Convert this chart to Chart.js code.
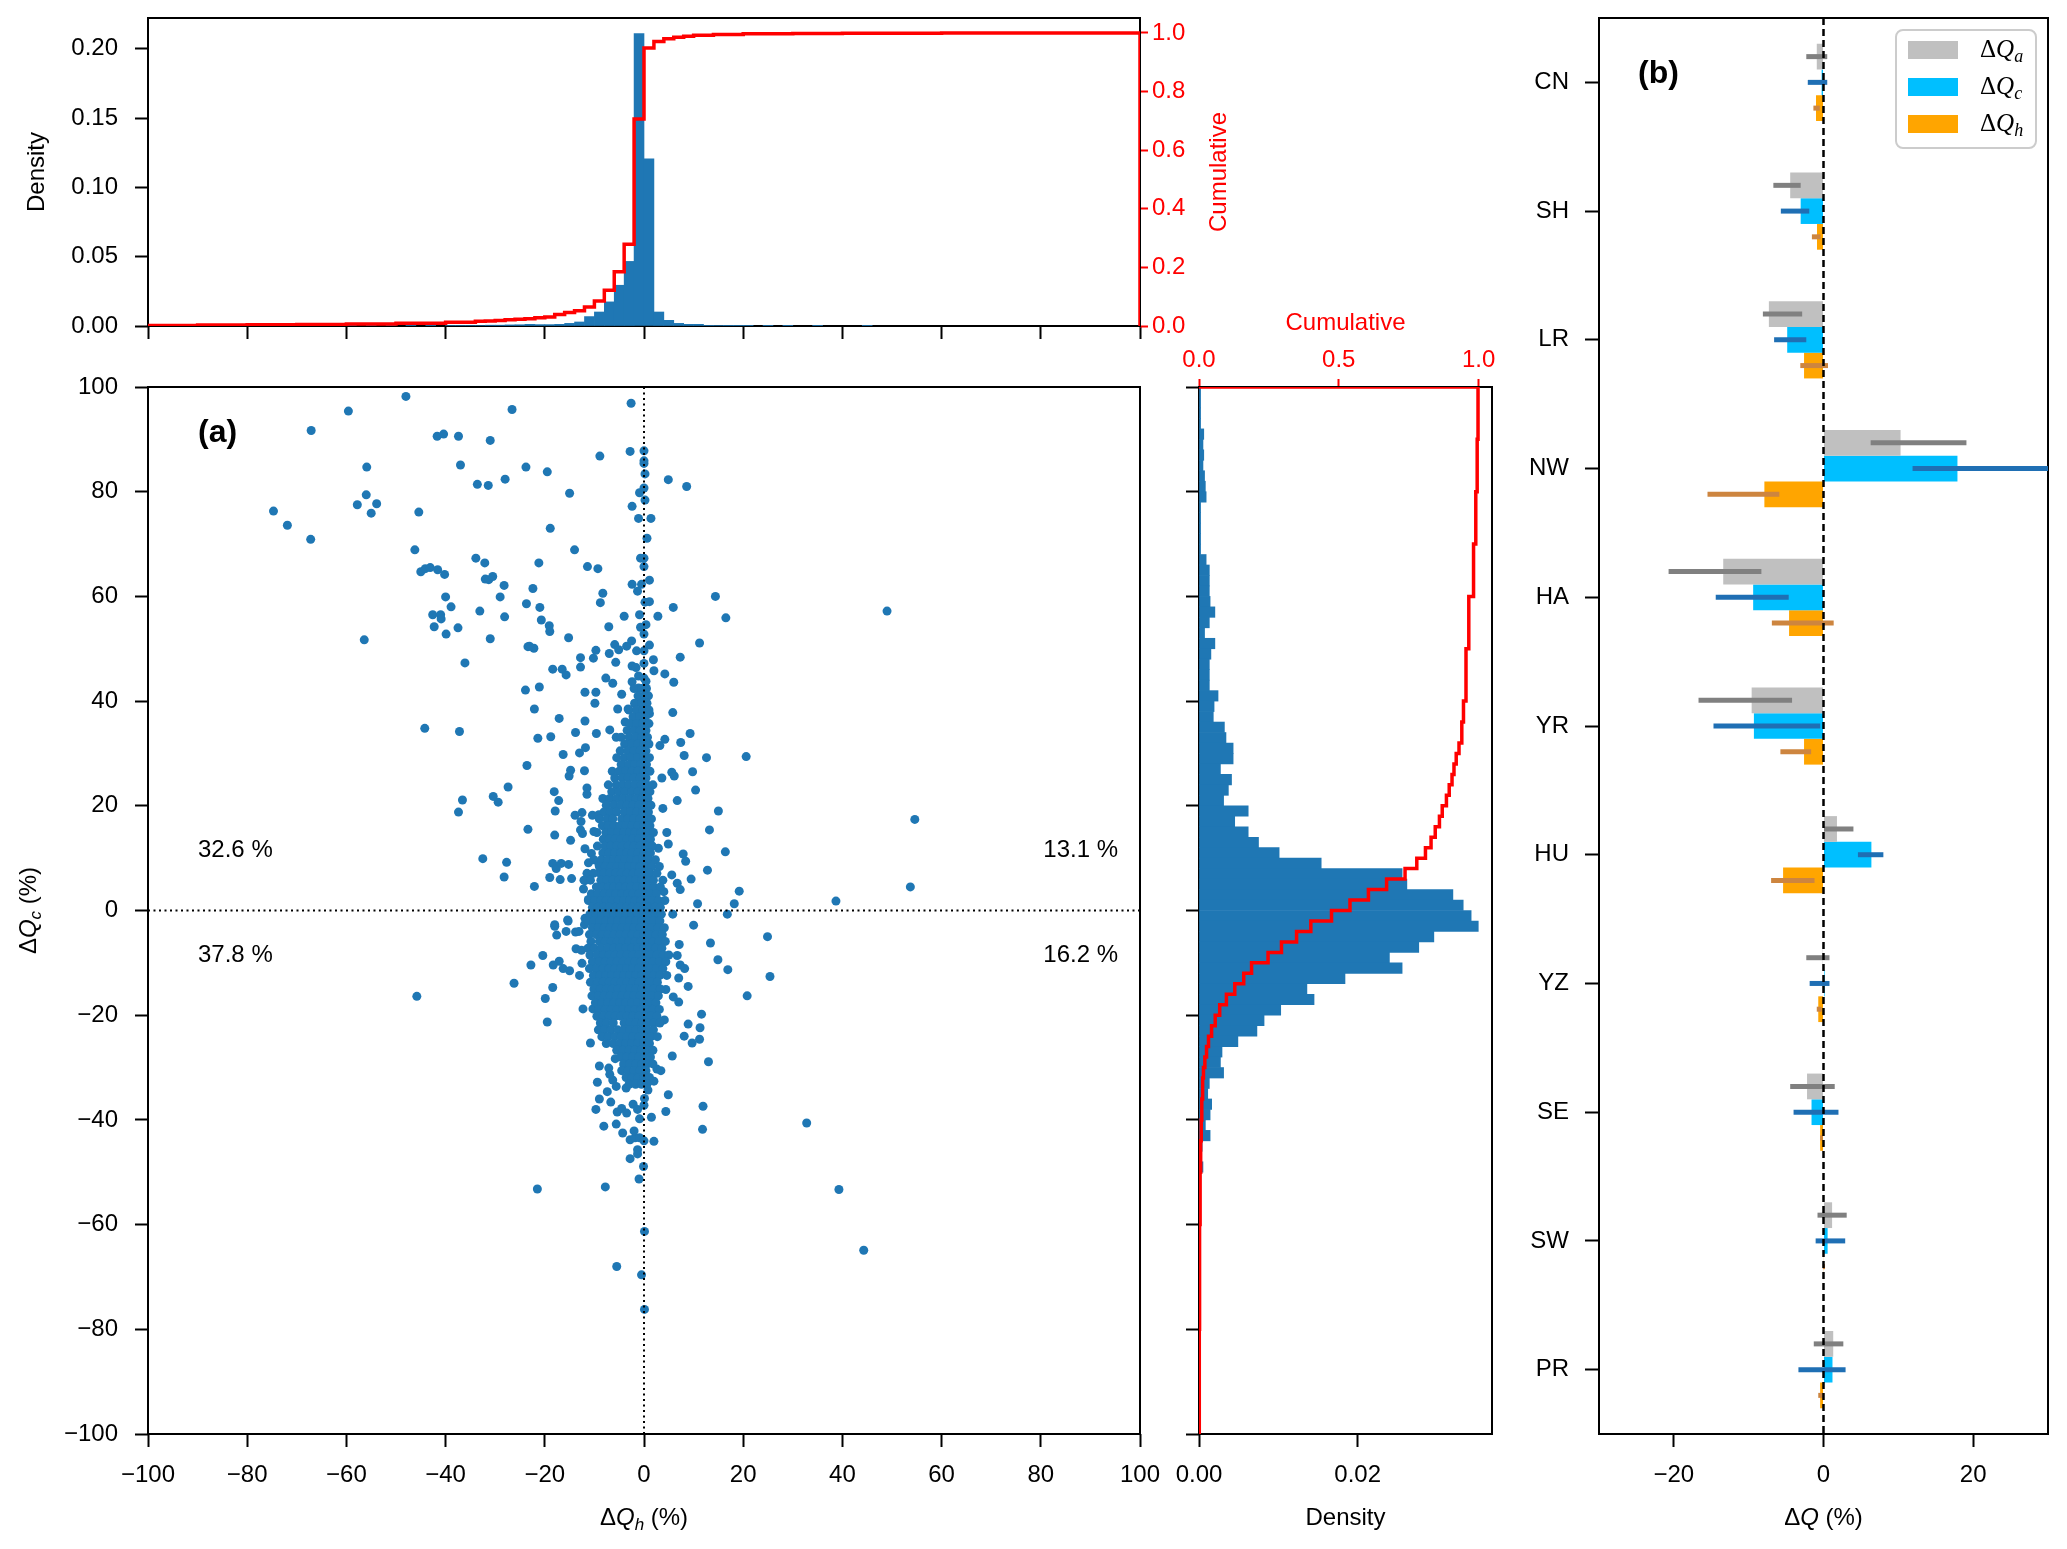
<!DOCTYPE html>
<html>
<head>
<meta charset="utf-8">
<script src="https://cdn.jsdelivr.net/npm/chart.js@4.4.1/dist/chart.umd.min.js"></script>
<style>
  html, body { margin: 0; padding: 0; background: #fff; }
  #wrap { position: relative; width: 2067px; height: 1549px; }
  #wrap canvas { position: absolute; left: 0; top: 0; }
</style>
</head>
<body>
<div id="wrap">
  <canvas id="histTop" width="2067" height="1549"></canvas>
  <canvas id="scatter" width="2067" height="1549"></canvas>
  <canvas id="histRight" width="2067" height="1549"></canvas>
  <canvas id="panelB" width="2067" height="1549"></canvas>
</div>
<script>
// ---------- data ----------

// top histogram of dQh (bin width 2 %)
const topBinCenter = [-99,-95,-91,-87,-83,-79,-75,-71,-67,-63,-59,-55,-51,-47,-43,-39,-37,-35,-33,-31,
  -29,-27,-25,-23,-21,-19,-17,-15,-13,-11,-9,-7,-5,-3,-1,1,3,5,7,9,11,13,15,17,19,21,25,29,35,45];
const topDensity = [0.0001,0.0001,0.0001,0.0001,0.0001,0.0001,0.0001,0.0001,0.0001,0.0001,
  0.0002,0.0002,0.0002,0.0002,0.0002,0.0003,0.0003,0.0003,0.0004,0.0006,
  0.0006,0.0008,0.0009,0.0012,0.001,0.001,0.0012,0.0019,0.0029,0.0068,
  0.0101,0.0174,0.0294,0.0466,0.211,0.1206,0.0101,0.0041,0.0019,0.0012,
  0.0012,0.0005,0.0003,0.0002,0.0002,0.0001,0.0001,0.0001,0.0001,0.0001];
// cumulative step line (left bin edge -> level)
const topCumEdge = [-100,-90,-80,-70,-60,-50,-40,-34,-32,-30,-28,-26,-24,-22,-20,-18,-16,-14,-12,-10,
  -8,-6,-4,-2,0,2,4,6,8,10,14,20,30,40,60,100,100];
const topCumLevel = [0.002,0.003,0.004,0.005,0.007,0.009,0.013,0.016,0.017,0.019,
  0.021,0.023,0.025,0.028,0.031,0.039,0.046,0.052,0.065,0.085,
  0.122,0.185,0.279,0.706,0.949,0.971,0.98,0.985,0.989,0.992,
  0.995,0.997,0.998,0.999,1.0,1.0,0];

// right histogram of dQc (bin width 2 %)
const rightBinCenter = [99,97,95,93,91,89,87,85,83,81,79,77,75,73,71,69,67,65,63,61,59,57,55,53,51,49,47,45,43,41,
  39,37,35,33,31,29,27,25,23,21,19,17,15,13,11,9,7,5,3,1,
  -1,-3,-5,-7,-9,-11,-13,-15,-17,-19,-21,-23,-25,-27,-29,-31,-33,-35,-37,-39,-41,-43,-45,-47,-49,-51,-53,-55,
  -59,-63,-67,-71,-75];
const rightDensity = [0.0002,0.0002,0.0002,0.0002,0.0006,0.0005,0.0006,0.0005,0.0007,0.0008,
  0.0009,0.0002,0.0002,0.0002,0.0002,0.0002,0.0009,0.0013,0.0013,0.0013,
  0.0014,0.002,0.0013,0.0007,0.002,0.0015,0.0013,0.0013,0.0013,0.0024,
  0.0019,0.0018,0.0032,0.0034,0.0043,0.0043,0.0027,0.0041,0.0037,0.0031,
  0.0062,0.0045,0.0062,0.0075,0.0101,0.0154,0.0256,0.0262,0.032,0.0333,
  0.0343,0.0352,0.0296,0.0277,0.024,0.0256,0.0184,0.0136,0.0145,0.0103,
  0.0082,0.0073,0.0049,0.0029,0.0027,0.0031,0.0013,0.0011,0.0016,0.0014,
  0.0008,0.0014,0.0004,0.0003,0.0005,0.0002,0.0002,0.0002,
  0.0001,0.0001,0.0001,0.0001,0.0001];
// cumulative step line (lower bin edge -> level)
const rightCumEdge = [-100,-80,-60,-50,-44,-40,-36,-32,-30,-28,-26,-24,-22,-20,-18,-16,-14,-12,-10,-8,
  -6,-4,-2,0,2,4,6,8,10,12,14,16,18,20,22,24,26,28,30,32,36,40,50,60,70,80,90,100];
const rightCumLevel = [0.001,0.002,0.004,0.006,0.008,0.010,0.013,0.016,0.021,0.027,
  0.034,0.045,0.058,0.074,0.098,0.128,0.16,0.188,0.247,0.295,
  0.349,0.40,0.474,0.54,0.606,0.671,0.737,0.779,0.81,0.83,
  0.845,0.86,0.87,0.885,0.895,0.905,0.912,0.92,0.93,0.94,
  0.946,0.955,0.965,0.982,0.99,0.995,0.998,0];

// scatter: individual points [dQh, dQc]
const scatterPts = [
  [-48.0,98.2],[-59.6,95.4],[-67.1,91.7],[-26.6,95.7],[-41.7,90.6],[-40.4,91.0],[-37.4,90.6],[-31.0,89.8],
  [-55.9,84.7],[-37.0,85.1],[-33.6,81.4],[-31.4,81.2],[-28.0,82.4],[-56.0,79.4],[-57.8,77.5],[-53.9,77.7],
  [-55.0,75.9],[-74.7,76.3],[-71.9,73.6],[-67.2,70.9],[-45.4,76.1],[-46.2,68.9],[-33.9,67.3],[-32.1,66.4],
  [-45.0,64.7],[-44.1,65.3],[-43.1,65.5],[-41.6,65.1],[-40.2,64.2],[-32.0,63.3],[-31.3,63.2],[-30.5,63.8],
  [-28.2,62.1],[-29.0,59.9],[-40.0,59.9],[-38.9,58.0],[-42.6,56.5],[-41.0,56.5],[-40.9,55.7],[-33.1,57.2],
  [-28.1,56.1],[-42.3,54.2],[-37.5,54.0],[-39.9,52.8],[-56.4,51.7],[-31.0,51.9],[-36.1,47.3],[-44.2,34.8],
  [-37.2,34.2],[-27.4,23.6],[-36.6,21.1],[-30.4,21.8],[-29.4,20.7],[-37.4,18.8],[-32.5,9.9],[-27.7,9.2],
  [-28.2,6.4],[-23.4,50.4],[-22.2,50.1],
  [-2.6,96.9],[-2.8,87.7],[0,87.8],[0,85.9],[0,85.4],[0.2,83.4],[-8.9,86.8],[-23.8,84.7],[-19.5,83.8],
  [4.9,82.3],[8.6,81.0],[-15.0,79.7],[0,80.7],[-0.9,79.8],[0.2,78.4],[-2.4,77.2],[-1.1,74.9],[1.4,74.9],
  [-18.9,73.0],[0.6,71.1],[-14.0,68.9],[-0.7,67.3],[0,67.3],[0,65.7],[-21.2,66.4],[-11.4,65.7],[-9.3,65.3],
  [1.1,63.1],[-2.4,62.3],[-0.5,62.3],[-1.3,61.0],[-22.4,61.5],[-8.3,60.6],[-8.8,58.8],[14.4,60.0],
  [-23.7,58.6],[-21.0,57.9],[1.1,59.0],[0.2,58.9],[5.9,57.9],[16.5,55.9],[-4.0,56.2],[-0.9,56.5],
  [0.4,54.6],[2.8,56.2],[-20.7,55.5],[-19.1,54.4],[-19.0,53.3],[-7.1,54.2],[-0.7,54.1],[0,52.8],
  [-23.1,50.5],[-15.2,52.1],[-2.5,51.5],[-5.9,50.8],[-5.1,49.8],[-3.5,50.5],[-9.7,49.7],[-7.0,49.1],
  [-1.5,49.6],[0,49.6],[1.1,50.7],[11.2,51.1],[-12.8,48.3],[-10.2,48.2],[-5.7,47.4],[0,47.2],[1.9,47.9],
  [7.3,48.4],[-18.4,46.1],[-16.5,46.1],[-15.7,45.0],[-12.8,46.5],[-2.4,46.7],[-1.6,46.4],[2.0,45.8],
  [4.2,45.2],[-7.7,44.4],[-1.1,44.8],[0,44.4],[-6.3,43.4],[-2.4,43.7],[0.4,43.8],[6.0,43.6],[-23.9,42.1],
  [-21.1,42.7],[-11.9,41.7],[-9.7,41.7],[-4.5,41.3],[-1.1,42.5],[0.9,41.0],[-9.9,39.6],[-5.3,38.5],
  [-3.2,38.5],[-0.8,40.3],[-22.1,38.5],[1.1,37.6],[5.8,37.8],[-17.1,36.7],[-11.9,36.2],[-3.8,36.0],
  [-21.4,32.9],[-18.8,33.2],[-13.8,34.0],[-9.6,33.8],[-6.9,34.5],[-5.6,33.1],[9.3,33.8],[7.4,32.1],
  [4.2,32.7],[3.2,31.5],[-16.3,29.8],[-13.0,30.1],[-11.8,31.1],[8.1,29.6],[12.6,29.2],[20.6,29.4],
  [-23.6,27.7],[-14.8,26.8],[-15.1,25.7],[-12.0,26.7],[3.6,25.3],[5.6,26.4],[6.1,25.7],[9.8,26.5],
  [10.4,23.0],[-18.1,22.7],[-17.2,21.0],[-11.5,23.4],[-11.5,22.2],[6.7,21.0],[3.8,19.5],[15.0,19.0],
  [-17.9,19.0],[-23.4,15.5],[-18.0,14.4],[-14.8,13.4],[13.2,15.4],[16.4,11.2],[12.8,7.7],[9.5,6.0],
  [4.6,14.9],[4.9,12.7],[2.9,11.9],[7.9,10.8],[8.4,9.4],[5.6,6.8],[6.7,5.2],[7.3,4.0],[4.0,3.6],
  [19.2,3.7],[18.2,1.3],[16.8,-0.7],[10.8,1.3],[5.8,-0.7],[-22.1,4.6],[-19.0,6.3],[-18.4,9.0],[-17.7,8.0],
  [-16.7,9.0],[-15.2,8.8],[-16.9,5.9],[-14.6,6.1],[-15.4,-1.8],[-18.0,-2.7],
  [-13.9,18.2],[-12.5,18.7],[-10.4,18.2],[-9.1,18.3],[-12.7,17.0],[-12.8,15.4],[-12.4,14.7],[-10.1,15.1],
  [-9.5,14.9],[-11.9,11.8],[-10.6,10.9],[-11.2,9.1],[-9.1,8.9],[-9.0,7.2],[-11.9,5.7],[-12.2,4.1],[-11.2,2.1],
  [-22.8,-10.4],[-20.4,-8.6],[-18.4,-14.7],[-19.9,-16.8],[-19.5,-21.3],[-21.5,-53.2],[-7.8,-52.8],
  [-5.5,-68.0],[-0.5,-69.6],[0.1,-76.2],[0.1,-61.3],[-1.0,-51.3],[-0.1,-48.9],[-2.8,-47.4],[-1.3,-46.5],
  [-1.3,-45.7],[-2.8,-43.8],[-1.8,-43.4],[-0.9,-43.4],[0,-44.0],[2.0,-44.1],[-2.0,-42.1],[-4.3,-42.5],
  [-8.1,-41.2],[-5.6,-40.8],[-0.9,-39.8],[1.5,-39.5],[4.4,-38.4],[-9.7,-38.0],[-5.4,-38.5],[-4.5,-37.8],
  [-3.5,-38.7],[-2.2,-37.0],[-1.3,-38.0],[0,-37.2],[11.9,-37.4],[11.8,-41.8],[-9.0,-36.0],[-6.7,-36.6],
  [0.1,-35.9],[0.8,-34.3],[4.9,-35.2],[-7.4,-34.6],[-5.6,-33.6],[-3.6,-33.9],[-9.4,-32.8],[-6.3,-32.4],
  [2.0,-32.6],[-9.0,-29.7],[-7.1,-30.1],[-6.9,-31.3],[-4.0,-29.6],[-5.8,-28.3],[-4.4,-27.5],[2.6,-30.3],
  [3.4,-30.6],[5.7,-27.8],[13.0,-28.9],[-10.8,-25.3],[8.1,-24.0],[9.7,-25.3],[11.2,-24.6],[11.6,-19.8],
  [8.9,-21.7],[11.3,-22.4],[-12.3,-18.8],[-10.3,-18.8],[7.0,-17.5],[5.9,-16.5],[8.9,-14.5],[20.8,-16.3],
  [25.4,-12.6],[24.9,-5.0],[16.9,-11.3],[14.9,-9.4],[13.4,-6.2],[10.0,-2.8],[-13.0,-12.4],[-15.0,-11.5],
  [-16.3,-11.1],[-17.1,-9.7],[-18.3,-10.4],[-18.0,-3.0],[-17.6,-4.7],[-15.3,-2.0],[-15.7,-4.0],[-13.8,-4.1],
  [-13.7,-7.3],[-12.6,-7.6],[-12.5,-10.1],[-13.1,-4.0],[-11.9,-1.5],[-12.0,-2.7],[7.1,-6.5],[6.7,-8.6],
  [7.3,-10.4],[8.2,-11.1],[7.0,-12.9],[4.4,-15.1],[4.1,-20.9],
  [49.0,57.2],[54.6,17.4],[53.7,4.5],[38.7,1.8],[32.8,-40.6],[39.3,-53.3],[44.3,-64.9],[-45.8,-16.4],[-26.2,-13.9]
];
// scatter: dense core, one row per dQc level -> dQh values
const coreRows = [
  [42.4,[-2.0,-0.4,0.5]], [41.0,[-1.2,0.1]], [39.6,[-1.9,-0.5,0.6]], [38.3,[-3.0,-1.5,-0.2,1.0]],
  [37.0,[-2.2,-0.9,0.3]], [35.7,[-2.8,-1.5,-0.3,1.0]], [34.4,[-3.4,-2.0,-0.8,0.4]],
  [33.1,[-4.6,-3.0,-1.7,-0.5,0.7]], [31.8,[-3.9,-2.5,-1.3,-0.1,1.0]], [30.5,[-4.8,-3.3,-2.0,-0.8,0.4]],
  [29.2,[-5.5,-4.0,-2.6,-1.3,-0.1,1.1]], [27.9,[-4.6,-3.1,-1.9,-0.7,0.5]],
  [26.6,[-6.4,-5.0,-3.7,-2.4,-1.2,0.0,1.2]], [25.3,[-5.9,-4.4,-3.2,-2.0,-0.8,0.4]],
  [24.0,[-7.2,-5.6,-4.3,-3.1,-1.8,-0.6,0.6,1.8]], [22.7,[-6.5,-5.1,-3.8,-2.5,-1.2,0.0,1.2]],
  [21.4,[-8.3,-6.9,-5.5,-4.2,-2.9,-1.6,-0.4,0.8]], [20.1,[-7.6,-6.1,-4.7,-3.4,-2.2,-1.0,0.2,1.4]],
  [18.8,[-8.1,-6.8,-5.5,-4.0,-2.7,-1.5,-0.3,0.9]], [17.5,[-9.0,-7.5,-6.3,-4.5,-3.3,-2.1,-0.9,0.3,1.5]],
  [16.2,[-8.4,-7.2,-6.0,-4.8,-3.6,-2.4,-1.2,0.0,1.2]], [14.9,[-7.7,-6.5,-5.3,-4.1,-2.9,-1.8,-0.6,0.6,1.9]],
  [13.6,[-8.2,-7.0,-5.8,-4.6,-3.4,-2.3,-1.1,0.1,1.3]], [12.3,[-9.4,-7.9,-6.7,-5.5,-4.4,-3.2,-2.0,-0.8,0.4,1.7]],
  [11.0,[-8.3,-7.1,-5.9,-4.7,-3.5,-2.4,-1.2,0.0,1.3]], [9.7,[-10.1,-8.6,-7.3,-6.1,-5.0,-3.8,-2.6,-1.5,-0.3,0.9,2.3]],
  [8.4,[-9.0,-7.8,-6.6,-5.4,-4.3,-3.1,-1.9,-0.8,0.4,1.6,3.1]],
  [7.1,[-11.5,-10.2,-8.1,-6.9,-5.7,-4.6,-3.4,-2.2,-1.1,0.1,1.2,2.6]],
  [5.8,[-12.1,-10.8,-8.7,-7.5,-6.3,-5.1,-4.0,-2.8,-1.7,-0.5,0.7,1.9,3.8]],
  [4.5,[-9.6,-8.4,-7.2,-6.1,-4.9,-3.7,-2.6,-1.4,-0.3,0.9,2.0,3.3]],
  [3.2,[-10.6,-9.3,-8.0,-6.8,-5.7,-4.5,-3.3,-2.2,-1.0,0.2,1.3,2.5]],
  [1.9,[-11.2,-9.9,-8.7,-7.6,-6.4,-5.2,-4.1,-2.9,-1.8,-0.6,0.5,1.7,2.9,4.2]],
  [0.6,[-10.4,-9.3,-8.1,-7.0,-5.8,-4.7,-3.5,-2.4,-1.2,-0.1,1.0,2.2,3.3]],
  [-0.7,[-10.9,-9.7,-8.5,-7.3,-6.1,-4.9,-3.7,-2.5,-1.3,-0.1,1.1,2.3,3.5]],
  [-2.0,[-11.4,-10.1,-8.9,-7.7,-6.5,-5.3,-4.1,-2.9,-1.7,-0.5,0.7,1.9,3.2]],
  [-3.3,[-10.4,-9.2,-8.0,-6.8,-5.6,-4.4,-3.2,-2.0,-0.8,0.4,1.6,2.8,4.1]],
  [-4.6,[-11.0,-9.6,-8.4,-7.2,-6.0,-4.8,-3.6,-2.4,-1.2,0.0,1.2,2.4,3.7]],
  [-5.9,[-10.7,-9.0,-7.8,-6.6,-5.4,-4.2,-3.0,-1.8,-0.6,0.6,1.8,3.0,4.3]],
  [-7.2,[-11.3,-10.0,-8.6,-7.3,-6.1,-4.9,-3.7,-2.5,-1.3,-0.1,1.1,2.3,3.6]],
  [-8.5,[-10.9,-9.5,-8.2,-7.0,-5.8,-4.6,-3.4,-2.2,-1.0,0.2,1.4,2.6,3.9,5.0]],
  [-9.8,[-10.4,-9.0,-7.8,-6.6,-5.4,-4.2,-3.0,-1.8,-0.6,0.6,1.8,3.1,4.4]],
  [-11.1,[-11.0,-9.6,-8.3,-7.1,-5.9,-4.7,-3.5,-2.3,-1.1,0.1,1.3,2.5,3.8]],
  [-12.4,[-10.2,-8.9,-7.7,-6.5,-5.3,-4.1,-2.9,-1.7,-0.5,0.7,1.9,3.2,4.6]],
  [-13.7,[-10.8,-9.4,-8.2,-7.0,-5.8,-4.6,-3.4,-2.2,-1.0,0.2,1.4,2.7]],
  [-15.0,[-10.1,-8.8,-7.6,-6.4,-5.2,-4.0,-2.8,-1.6,-0.4,0.8,2.0,3.3]],
  [-16.3,[-10.5,-9.2,-8.0,-6.8,-5.6,-4.4,-3.2,-2.0,-0.8,0.4,1.6,2.9]],
  [-17.6,[-9.8,-8.5,-7.3,-6.1,-4.9,-3.7,-2.5,-1.3,-0.1,1.1,2.4]],
  [-18.9,[-9.1,-7.8,-6.6,-5.4,-4.2,-3.0,-1.8,-0.6,0.6,1.8,3.1]],
  [-20.2,[-9.5,-8.2,-7.0,-5.8,-4.6,-3.4,-2.2,-1.0,0.2,1.4,2.6]],
  [-21.5,[-8.8,-7.6,-6.2,-4.0,-2.8,-1.6,-0.4,0.8,2.0,3.2]],
  [-22.8,[-9.2,-8.0,-6.7,-5.3,-4.1,-2.9,-1.7,-0.5,0.7,1.9]],
  [-24.1,[-8.5,-7.2,-5.9,-4.6,-3.4,-2.2,-1.0,0.2,1.4,2.7]],
  [-25.4,[-7.6,-6.2,-4.9,-3.7,-2.5,-1.3,-0.1,1.1]],
  [-26.7,[-5.5,-4.2,-3.0,-1.8,-0.6,0.6,1.8]], [-28.0,[-4.7,-3.5,-2.3,-1.1,0.1,1.3]],
  [-29.3,[-4.1,-2.9,-1.7,-0.5,0.7,1.8]], [-30.6,[-4.5,-3.2,-2.0,-0.8,0.4]],
  [-31.9,[-3.6,-2.4,-1.2,0.0,1.1]], [-33.2,[-3.0,-1.7,-0.5,0.6]]
];

// panel (b): regional changes (%) and the ranges drawn as thin bars
const regions = ['CN','SH','LR','NW','HA','YR','HU','YZ','SE','SW','PR'];
const dQa = [-0.9,-4.45,-7.3,10.3,-13.4,-9.6,1.8,-0.1,-2.2,1.15,1.3];
const dQc = [-0.25,-3.05,-4.85,17.9,-9.4,-9.3,6.4,0.15,-1.6,0.55,1.2];
const dQh = [-1.0,-0.87,-2.6,-7.9,-4.6,-2.6,-5.4,-0.7,-0.45,0.05,-0.45];
const rangeA = [[-2.3,0.5],[-6.7,-3.05],[-8.1,-2.85],[6.3,19.1],[-20.7,-8.3],[-16.7,-4.2],[0,4.0],[-2.3,0.8],[-4.45,1.5],[-0.8,3.1],[-1.3,2.65]];
const rangeC = [[-2.1,0.5],[-5.7,-1.9],[-6.6,-2.3],[11.9,32],[-14.4,-4.65],[-14.7,-0.44],[4.6,8.0],[-1.85,0.8],[-4.0,2.0],[-1.05,2.9],[-3.35,2.95]];
const rangeH = [[-1.35,-0.5],[-1.55,-0.4],[-3.1,0.6],[-15.5,-5.9],[-6.9,1.36],[-5.76,-1.65],[-7.0,-1.2],[-0.9,-0.25],[-0.45,-0.1],[-0.1,0.2],[-0.7,-0.1]];
const panelBTicks = [-20, 0, 20];

// ---------- helpers ----------
const SANS = "'Liberation Sans', Arial, sans-serif";
const SERIF = "'Liberation Serif', 'Times New Roman', serif";
const TICK_FONT = { family: SANS, size: 24 };
const BLUE = '#1f77b4';

const minus = s => String(s).replace('-', '\u2212');
// fixed axis size; label overhang must not push the plot area around
const noPad = s => { s.paddingTop = 0; s.paddingBottom = 0; s.paddingLeft = 0; s.paddingRight = 0; };
const fixW = w => (s => { s.width = w; noPad(s); });
const fixH = h => (s => { s.height = h; noPad(s); });

function tickGrid(len, color) {
  return { display: true, drawOnChartArea: false, drawTicks: true, offset: false,
           tickLength: len, tickWidth: 2, tickColor: color || '#000' };
}

// draws a run of text pieces: [text, style] with style 'i' italic, 's' subscript, 'b' bold
function richText(ctx, parts, x, y, opt) {
  const size = opt.size || 24, family = opt.family || SANS;
  const fontOf = st => (st.includes('i') ? 'italic ' : '') + (st.includes('b') ? 'bold ' : '') +
                       (st.includes('s') ? Math.round(size * 0.7) : size) + 'px ' + family;
  ctx.save();
  ctx.translate(x, y);
  ctx.rotate(opt.rot || 0);
  ctx.fillStyle = opt.color || '#000';
  ctx.textBaseline = 'middle';
  ctx.textAlign = 'left';
  const widths = parts.map(p => { ctx.font = fontOf(p[1] || ''); return ctx.measureText(p[0]).width; });
  const total = widths.reduce((a, b) => a + b, 0);
  let cx = opt.align === 'center' ? -total / 2 : (opt.align === 'right' ? -total : 0);
  parts.forEach((p, i) => {
    const st = p[1] || '';
    ctx.font = fontOf(st);
    ctx.fillText(p[0], cx, st.includes('s') ? size * 0.3 : 0);
    cx += widths[i];
  });
  ctx.restore();
}

const framePlugin = {
  id: 'frame',
  beforeDatasetsDraw(chart) {
    const a = chart.chartArea, ctx = chart.ctx;
    ctx.save();
    ctx.strokeStyle = '#000';
    ctx.lineWidth = 2;
    ctx.strokeRect(a.left, a.top, a.right - a.left, a.bottom - a.top);
    ctx.restore();
  }
};

const baseOpts = {
  responsive: false,
  animation: false,
  devicePixelRatio: 1,
  events: [],
  plugins: { legend: { display: false }, tooltip: { enabled: false } }
};

// ---------- top histogram ----------
new Chart(document.getElementById('histTop'), {
  type: 'bar',
  data: {
    datasets: [
      {
        type: 'line', yAxisID: 'y1', stepped: true,
        data: topCumEdge.map((x, i) => ({ x: x, y: topCumLevel[i] })),
        borderColor: '#ff0000', borderWidth: 3.5, pointRadius: 0, fill: false
      },
      {
        type: 'bar', yAxisID: 'y',
        data: topBinCenter.map((x, i) => ({ x: x, y: topDensity[i] })),
        backgroundColor: BLUE, borderWidth: 0, barPercentage: 1, categoryPercentage: 1
      }
    ]
  },
  options: Object.assign({}, baseOpts, {
    layout: { padding: { left: 0, top: 18, right: 2067 - 1140 - 60, bottom: 1549 - 326 - 20 } },
    scales: {
      x: { type: 'linear', min: -100, max: 100, offset: false,
           ticks: { display: false, stepSize: 20 }, grid: tickGrid(13), border: { display: false },
           afterFit: fixH(20) },
      y: { type: 'linear', position: 'left', min: 0, max: 0.2222,
           ticks: { stepSize: 0.05, includeBounds: false, padding: 17, color: '#000', font: TICK_FONT,
                    callback: v => v.toFixed(2) },
           grid: tickGrid(13), border: { display: false }, afterFit: fixW(148) },
      y1: { type: 'linear', position: 'right', min: 0, max: 1.051,
            ticks: { stepSize: 0.2, includeBounds: false, padding: 4, color: '#ff0000', font: TICK_FONT,
                     callback: v => v.toFixed(1) },
            grid: tickGrid(8, '#ff0000'), border: { display: false }, afterFit: fixW(60) }
    }
  }),
  plugins: [framePlugin, {
    id: 'topLabels',
    afterDraw(chart) {
      const a = chart.chartArea, ctx = chart.ctx, cy = (a.top + a.bottom) / 2;
      richText(ctx, [['Density']], 37, cy, { rot: -Math.PI / 2, align: 'center' });
      richText(ctx, [['Cumulative']], a.right + 79, cy, { rot: -Math.PI / 2, align: 'center', color: '#ff0000' });
    }
  }]
});

// ---------- scatter ----------
const scatterData = scatterPts.map(p => ({ x: p[0], y: p[1] }));
coreRows.forEach(r => r[1].forEach(x => scatterData.push({ x: x, y: r[0] })));

new Chart(document.getElementById('scatter'), {
  type: 'scatter',
  data: {
    datasets: [{
      data: scatterData, backgroundColor: BLUE, borderWidth: 0, pointRadius: 4.5
    }]
  },
  options: Object.assign({}, baseOpts, {
    layout: { padding: { left: 0, top: 387, right: 2067 - 1140, bottom: 1549 - 1434 - 70 } },
    scales: {
      x: { type: 'linear', min: -100, max: 100,
           ticks: { stepSize: 20, includeBounds: false, padding: 14, color: '#000', font: TICK_FONT,
                    maxRotation: 0, callback: v => minus(v) },
           grid: tickGrid(13), border: { display: false }, afterFit: fixH(70) },
      y: { type: 'linear', min: -100, max: 100,
           ticks: { stepSize: 20, includeBounds: false, padding: 17, color: '#000', font: TICK_FONT,
                    callback: v => minus(v) },
           grid: tickGrid(13), border: { display: false }, afterFit: fixW(148) }
    }
  }),
  plugins: [framePlugin, {
    id: 'scatterDecor',
    afterDatasetsDraw(chart) {
      const { ctx, chartArea: a, scales: { x, y } } = chart;
      const x0 = x.getPixelForValue(0), y0 = y.getPixelForValue(0);
      ctx.save();
      ctx.strokeStyle = '#000';
      ctx.lineWidth = 2;
      ctx.setLineDash([2, 3.5]);
      ctx.beginPath();
      ctx.moveTo(x0, a.top); ctx.lineTo(x0, a.bottom);
      ctx.moveTo(a.left, y0); ctx.lineTo(a.right, y0);
      ctx.stroke();
      ctx.restore();
    },
    afterDraw(chart) {
      const { ctx, chartArea: a, scales: { y } } = chart;
      const y0 = y.getPixelForValue(0);
      richText(ctx, [['(a)', 'b']], a.left + 50, a.top + 46, { size: 32 });
      richText(ctx, [['32.6 %']], a.left + 50, y0 - 60, {});
      richText(ctx, [['37.8 %']], a.left + 50, y0 + 45, {});
      richText(ctx, [['13.1 %']], a.right - 22, y0 - 60, { align: 'right' });
      richText(ctx, [['16.2 %']], a.right - 22, y0 + 45, { align: 'right' });
      richText(ctx, [['\u0394'], ['Q', 'i'], ['h', 'is'], [' (%)']], (a.left + a.right) / 2, a.bottom + 84, { align: 'center' });
      richText(ctx, [['\u0394'], ['Q', 'i'], ['c', 'is'], [' (%)']], 29, (a.top + a.bottom) / 2, { align: 'center', rot: -Math.PI / 2 });
    }
  }]
});

// ---------- right histogram ----------
new Chart(document.getElementById('histRight'), {
  type: 'bar',
  data: {
    datasets: [
      {
        type: 'line', xAxisID: 'x2', yAxisID: 'y', stepped: 'after',
        data: rightCumEdge.map((y, i) => ({ x: rightCumLevel[i], y: y })),
        borderColor: '#ff0000', borderWidth: 3.5, pointRadius: 0, fill: false
      },
      {
        type: 'bar', xAxisID: 'x', yAxisID: 'y',
        data: rightBinCenter.map((y, i) => ({ x: rightDensity[i], y: y })),
        backgroundColor: BLUE, borderWidth: 0, barPercentage: 1, categoryPercentage: 1
      }
    ]
  },
  options: Object.assign({}, baseOpts, {
    indexAxis: 'y',
    layout: { padding: { left: 1199 - 30, top: 387 - 50, right: 2067 - 1492, bottom: 1549 - 1434 - 70 } },
    scales: {
      y: { type: 'linear', position: 'left', min: -100, max: 100, offset: false,
           ticks: { display: false, stepSize: 20 }, grid: tickGrid(13), border: { display: false },
           afterFit: fixW(30) },
      x: { type: 'linear', position: 'bottom', min: 0, max: 0.03693,
           ticks: { stepSize: 0.02, includeBounds: false, padding: 14, color: '#000', font: TICK_FONT,
                    maxRotation: 0, callback: v => v.toFixed(2) },
           grid: tickGrid(13), border: { display: false }, afterFit: fixH(70) },
      x2: { type: 'linear', position: 'top', min: 0, max: 1.048,
            ticks: { stepSize: 0.5, includeBounds: false, padding: 4, color: '#ff0000', font: TICK_FONT,
                     maxRotation: 0, callback: v => v.toFixed(1) },
            grid: tickGrid(8, '#ff0000'), border: { display: false }, afterFit: fixH(50) }
    }
  }),
  plugins: [framePlugin, {
    id: 'rightLabels',
    afterDraw(chart) {
      const a = chart.chartArea, ctx = chart.ctx, cx = (a.left + a.right) / 2;
      richText(ctx, [['Cumulative']], cx, a.top - 64, { align: 'center', color: '#ff0000' });
      richText(ctx, [['Density']], cx, a.bottom + 84, { align: 'center' });
    }
  }]
});

// ---------- panel (b) ----------
const barColors = ['#c0c0c0', '#00bfff', '#ffa500'];
const rangeColors = ['#808080', '#1f6fb4', '#cd853f'];
const stackKeys = ['a', 'c', 'h'];
// ranges share the group slot (stack key) of their bar, so they sit on its centre line
const rangeSets = [rangeA, rangeC, rangeH].map((vals, i) => ({
  type: 'bar', data: vals, stack: stackKeys[i], order: 0,
  backgroundColor: rangeColors[i], borderWidth: 0, categoryPercentage: 0.6, barPercentage: 1,
  maxBarThickness: 5
}));
const barSets = [dQa, dQc, dQh].map((vals, i) => ({
  type: 'bar', data: vals, stack: stackKeys[i], order: 1,
  backgroundColor: barColors[i], borderWidth: 0, categoryPercentage: 0.6, barPercentage: 1
}));

new Chart(document.getElementById('panelB'), {
  type: 'bar',
  data: { labels: regions, datasets: rangeSets.concat(barSets) },
  options: Object.assign({}, baseOpts, {
    indexAxis: 'y',
    layout: { padding: { left: 1500, top: 18, right: 2067 - 2048, bottom: 1549 - 1434 - 70 } },
    scales: {
      x: { type: 'linear', min: -30, max: 30, stacked: false,
           afterBuildTicks: s => { s.ticks = panelBTicks.map(v => ({ value: v })); },
           ticks: { padding: 14, color: '#000', font: TICK_FONT, maxRotation: 0, callback: v => minus(v) },
           grid: tickGrid(13), border: { display: false }, afterFit: fixH(70) },
      y: { type: 'category', position: 'left', offset: true,
           ticks: { padding: 16, color: '#000', font: TICK_FONT },
           grid: tickGrid(14), border: { display: false }, afterFit: fixW(99) }
    }
  }),
  plugins: [framePlugin, {
    id: 'panelBDecor',
    afterDatasetsDraw(chart) {
      const { ctx, chartArea: a, scales: { x } } = chart;
      const x0 = x.getPixelForValue(0);
      ctx.save();
      ctx.strokeStyle = '#000';
      ctx.lineWidth = 2.5;
      ctx.setLineDash([7, 4]);
      ctx.beginPath();
      ctx.moveTo(x0, a.top); ctx.lineTo(x0, a.bottom);
      ctx.stroke();
      ctx.restore();
    },
    afterDraw(chart) {
      const { ctx, chartArea: a } = chart;
      richText(ctx, [['(b)', 'b']], a.left + 39, a.top + 56, { size: 32 });
      richText(ctx, [['\u0394'], ['Q', 'i'], [' (%)']], (a.left + a.right) / 2, a.bottom + 84, { align: 'center' });
      // legend box in the upper right corner
      const bx = a.right - 152, by = a.top + 12, bw = 140, bh = 118;
      ctx.save();
      ctx.fillStyle = 'rgba(255,255,255,0.85)';
      ctx.strokeStyle = '#cccccc';
      ctx.lineWidth = 2;
      ctx.beginPath();
      ctx.roundRect(bx, by, bw, bh, 7);
      ctx.fill();
      ctx.stroke();
      ['a', 'c', 'h'].forEach((n, i) => {
        const ry = by + 20 + i * 37;
        ctx.fillStyle = barColors[i];
        ctx.fillRect(bx + 12, ry - 9, 50, 18);
        richText(ctx, [['\u0394', ''], ['Q', 'i'], [n, 'is']], bx + 84, ry, { family: SERIF, size: 25 });
      });
      ctx.restore();
    }
  }]
});
</script>
</body>
</html>
